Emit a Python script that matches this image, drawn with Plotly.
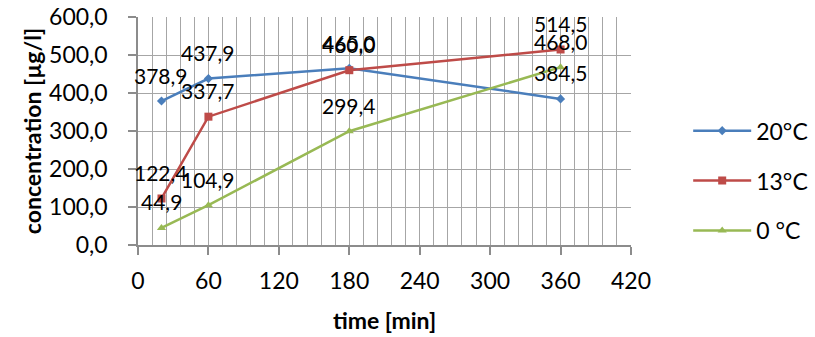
import plotly.graph_objects as go

# Sampling times [min] and measured concentrations [µg/l]
times = [20, 60, 180, 360]
conc_20 = [378.9, 437.9, 465.0, 384.5]
conc_13 = [122.4, 337.7, 460.0, 514.5]
conc_0 = [44.9, 104.9, 299.4, 468.0]

series_names = ["20°C", "13°C", "0 °C"]
series_values = [conc_20, conc_13, conc_0]
series_colors = ["#4A7EBB", "#BE4B48", "#98B954"]
series_symbols = ["diamond", "square", "triangle-up"]
series_marker_sizes = [7, 8, 8]

FONT = "Lato"
GRID = "#A6A6A6"
AXIS = "#8C8C8C"

fig = go.Figure()

for name, vals, col, sym, ms in zip(series_names, series_values, series_colors,
                                     series_symbols, series_marker_sizes):
    fig.add_trace(go.Scatter(
        x=times, y=vals, name=name, legendgroup=name,
        mode="lines+markers",
        line=dict(color=col, width=2.5),
        marker=dict(symbol=sym, size=ms, color=col),
    ))
    # value labels above each point
    for t, v in zip(times, vals):
        fig.add_annotation(
            x=t, y=v, text=f"{v:.1f}".replace(".", ","),
            showarrow=False, yshift=26,
            font=dict(family=FONT, size=21, color="#000000"),
        )

fig.update_layout(
    width=815, height=337,
    margin=dict(l=138, r=184, t=17, b=92, autoexpand=False),
    paper_bgcolor="white", plot_bgcolor="white",
    separators=",.",
    font=dict(family=FONT, size=23, color="#000000"),
    showlegend=True,
    legend=dict(
        x=1.116, y=0.282, xanchor="left", yanchor="middle",
        font=dict(family=FONT, size=23),
        tracegroupgap=17, itemwidth=58,
        bgcolor="rgba(0,0,0,0)",
    ),
)

fig.update_xaxes(
    range=[0, 420], dtick=60, tick0=0, automargin=False,
    showgrid=True, gridcolor=GRID, gridwidth=1,
    minor=dict(dtick=12, showgrid=True, gridcolor=GRID, gridwidth=1),
    ticks="outside", ticklen=8, tickcolor=AXIS, tickwidth=1.5,
    showline=True, linecolor=AXIS, linewidth=1.5,
    zeroline=False, mirror=False,
    tickfont=dict(family=FONT, size=23), ticklabelstandoff=7,
    title=dict(text="<b>time [min]</b>", font=dict(family=FONT, size=23), standoff=20),
)

fig.update_yaxes(
    range=[0, 600], dtick=100, tick0=0, tickformat=".1f", automargin=False,
    showgrid=True, gridcolor=GRID, gridwidth=1,
    ticks="outside", ticklen=8, tickcolor=AXIS, tickwidth=1.5,
    showline=True, linecolor=AXIS, linewidth=1.5,
    zeroline=False,
    tickfont=dict(family=FONT, size=23), ticklabelstandoff=16,
    title=dict(text="<b>concentration [µg/l]</b>", font=dict(family=FONT, size=23), standoff=1),
)

fig.write_html("out.html")
